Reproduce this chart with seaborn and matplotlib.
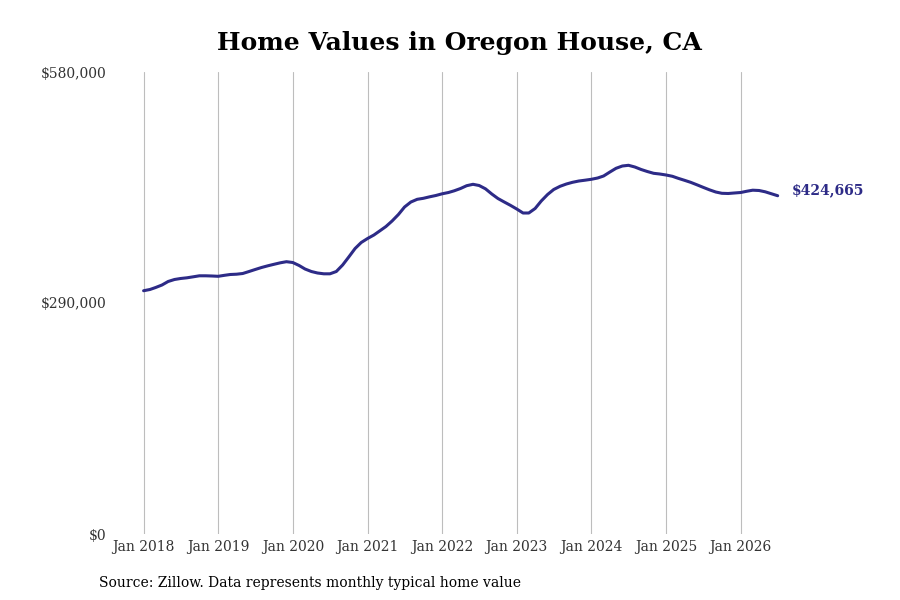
import seaborn as sns
import matplotlib.pyplot as plt
import matplotlib.dates as mdates
from matplotlib.ticker import FuncFormatter
import pandas as pd

# Monthly typical home value, Jan 2018 - Jul 2026
start_month = "2018-01-01"
home_values = [
    305400, 306950, 309460, 312600, 317000, 319500, 320760, 321630, 322890, 324150, 324150, 323900,
    323520, 324770, 325780, 326150, 327030, 329540, 332050, 334560, 336700, 338580, 340460, 341850,
    340840, 337080, 332680, 329540, 327660, 326650, 326650, 329540, 337700, 347750, 358420, 365950,
    370970, 375360, 380390, 386030, 392940, 401100, 410520, 416790, 420180, 421430, 423320, 424950,
    427090, 428720, 430850, 433740, 437250, 439010, 437510, 433360, 426840, 421190, 416790, 412650,
    408010, 402980, 402980, 408630, 418050, 426210, 432490, 436500, 439390, 441520, 443150, 444160,
    445290, 446920, 449430, 454450, 459100, 461990, 462870, 460730, 457590, 455080, 452820, 451940,
    450690, 449060, 446550, 444040, 441520, 438390, 435250, 432110, 429350, 427720, 427470, 428100,
    428720, 430350, 431610, 431230, 429600, 427090, 424665,
]
y_ticks = [0, 290000, 580000]
x_tick_years = list(range(2018, 2027))

dates = pd.date_range(start_month, periods=len(home_values), freq="MS")
df = pd.DataFrame({"Date": dates, "Value": home_values})

line_color = "#2d2b87"

sns.set_style("white")
plt.rcParams["font.family"] = ["DejaVu Serif"]

fig = plt.figure(figsize=(9, 6), dpi=100)
ax = fig.add_axes([0.128, 0.11, 0.764, 0.77])

sns.lineplot(data=df, x="Date", y="Value", ax=ax, color=line_color, linewidth=2.2)

# Axes styling
ax.set_ylim(0, 580000)
ax.set_xlim(pd.Timestamp("2017-08-15"), pd.Timestamp("2026-11-01"))
ax.set_yticks(y_ticks)
ax.yaxis.set_major_formatter(FuncFormatter(lambda v, p: f"${v:,.0f}"))
ax.set_xticks([pd.Timestamp(f"{y}-01-01") for y in x_tick_years])
ax.xaxis.set_major_formatter(mdates.DateFormatter("Jan %Y"))
ax.tick_params(axis="both", length=0, labelsize=10, labelcolor="#333333")
ax.tick_params(axis="x", pad=4)
ax.tick_params(axis="y", pad=6)
ax.set_xlabel("")
ax.set_ylabel("")
ax.grid(axis="x", color="#bdbdbd", linewidth=0.8)
ax.grid(axis="y", visible=False)
for spine in ax.spines.values():
    spine.set_visible(False)

# Last value label
ax.annotate(f"${home_values[-1]:,}", xy=(dates[-1], home_values[-1]),
            xytext=(10, 4), textcoords="offset points", va="center", ha="left",
            fontsize=10, fontweight="bold", color=line_color)

ax.set_title("Home Values in Oregon House, CA", fontsize=18, fontweight="bold",
             color="black", pad=16)
fig.text(0.11, 0.022, "Source: Zillow. Data represents monthly typical home value",
         fontsize=10, color="black")

fig.savefig("out.png", dpi=100)
